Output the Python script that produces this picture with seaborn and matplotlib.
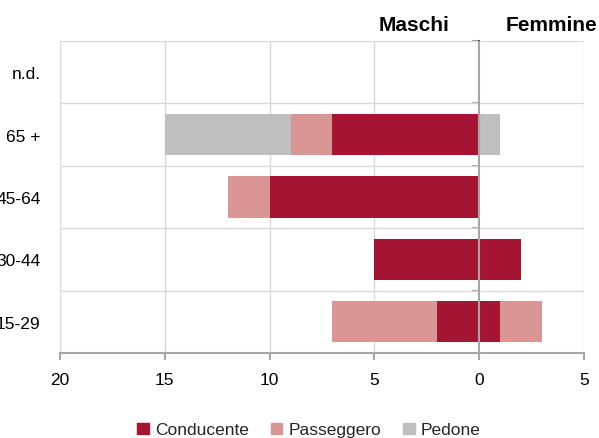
import matplotlib
matplotlib.use("Agg")
import matplotlib.pyplot as plt
import matplotlib.patches as mpatches
import matplotlib.transforms as mtransforms
import seaborn as sns
import pandas as pd
import numpy as np

categories = ["n.d.", "65 +", "45-64", "30-44", "15-29"]
series = ["Conducente", "Passeggero", "Pedone"]
colors = {"Conducente": "#A61433", "Passeggero": "#D99694", "Pedone": "#BFBFBF"}

maschi_conducente = [0, 7, 10, 5, 2]
maschi_passeggero = [0, 2, 2, 0, 5]
maschi_pedone = [0, 6, 0, 0, 0]

femmine_conducente = [0, 0, 0, 2, 1]
femmine_passeggero = [0, 0, 0, 0, 2]
femmine_pedone = [0, 1, 0, 0, 0]

xticks = [-20, -15, -10, -5, 0, 5]
xtick_labels = ["20", "15", "10", "5", "0", "5"]

sns.set_theme(style="white")
plt.rcParams["font.family"] = ["Liberation Sans", "DejaVu Sans"]

fig = plt.figure(figsize=(5.99, 4.39), dpi=100)
ax = fig.add_axes([60/599, 1-354/439, 524/599, 312/439])

def stacked(values_list, sign):
    cum = np.zeros(len(categories))
    cums = []
    for v in values_list:
        cum = cum + np.array(v)
        cums.append(cum.copy())
    for name, c in reversed(list(zip(series, cums))):
        df = pd.DataFrame({"cat": categories, "val": sign * c})
        sns.barplot(data=df, x="val", y="cat", order=categories, orient="h",
                    color=colors[name], width=0.66, ax=ax, saturation=1,
                    linewidth=0, zorder=3)

stacked([maschi_conducente, maschi_passeggero, maschi_pedone], -1)
stacked([femmine_conducente, femmine_passeggero, femmine_pedone], 1)

ax.set_xlim(-20, 5)
ax.set_ylim(4.5, -0.5)
ax.set_xlabel("")
ax.set_ylabel("")
ax.set_xticks(xticks)
ax.set_xticklabels(xtick_labels)

for xv in xticks:
    if xv != 0:
        ax.axvline(xv, color="#D9D9D9", lw=1, zorder=1)
for yb in np.arange(-0.5, 4.6, 1):
    ax.axhline(yb, color="#D9D9D9", lw=1, zorder=1)

for s in ["top", "right", "left"]:
    ax.spines[s].set_visible(False)
ax.spines["bottom"].set_color("#A6A6A6")
ax.spines["bottom"].set_linewidth(1.5)
ax.spines["bottom"].set_zorder(5)

ax.tick_params(axis="x", length=5, width=1.5, color="#A6A6A6", pad=9,
               labelsize=12.5, labelcolor="black", bottom=True)
ax.tick_params(axis="y", length=0, pad=14, labelsize=12.5, labelcolor="black")

# zero axis line
ax.axvline(0, color="#A6A6A6", lw=1.5, zorder=6)
# ticks at category boundaries on the zero axis (pointing left)
sec = ax.secondary_yaxis(0.8)
sec.set_yticks(list(np.arange(-0.5, 4.6, 1)))
sec.set_yticklabels([])
sec.spines["left"].set_visible(False)
sec.tick_params(axis="y", length=5, width=1.5, color="#A6A6A6", direction="out",
                left=True, right=False)

trans = mtransforms.blended_transform_factory(ax.transData, ax.transAxes)
ax.text(-3.1, 1.054, "Maschi", transform=trans, ha="center", va="center",
        fontsize=15, fontweight="bold", color="black")
ax.text(3.45, 1.054, "Femmine", transform=trans, ha="center", va="center",
        fontsize=15, fontweight="bold", color="black")

handles = [mpatches.Patch(color=colors[s], label=s) for s in series]
fig.legend(handles=handles, loc="center", bbox_to_anchor=(309/599, 1-431/439),
           ncol=3, frameon=False, fontsize=12.5, handlelength=0.65,
           handleheight=0.65, handletextpad=0.35, columnspacing=1.28,
           borderaxespad=0, borderpad=0)

fig.savefig("out.png", dpi=100)
